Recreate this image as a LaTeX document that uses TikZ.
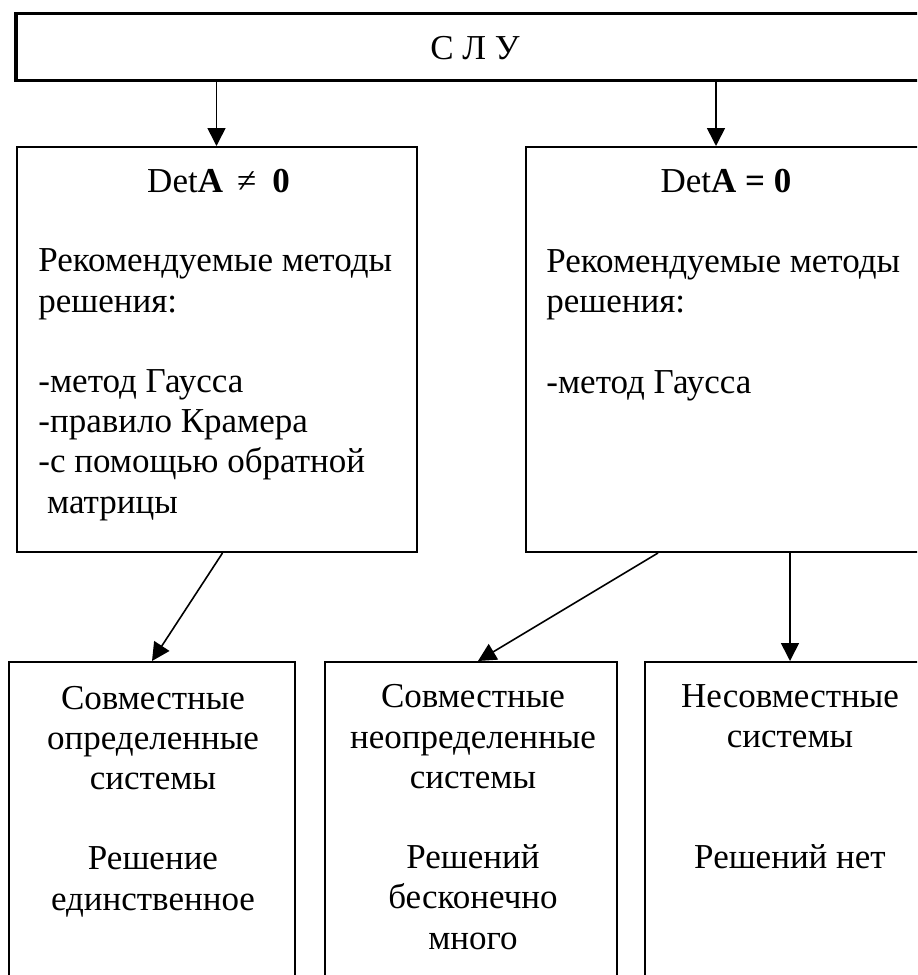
\documentclass[tikz,border=0pt]{standalone}
\usepackage{fontspec}
\setmainfont{Liberation Serif}
\usetikzlibrary{shapes,arrows.meta}
\tikzstyle{cadre}=[rectangle,draw,line width=1pt,inner sep=0pt,
minimum width=200pt,minimum height=202.5pt]
\tikzstyle{cadre1}=[rectangle,draw,line width=1pt,inner sep=0pt,
minimum height=169pt]
\tikzstyle{texte}=[inner sep=0pt,text=black,
font=\fontsize{17.5}{20.1}\selectfont]
\tikzstyle{fleche}=[line width=0.8pt,-{Triangle[width=9pt,length=9pt]}]

\begin{document}
\begin{tikzpicture}[x=0.5pt,y=-0.5pt]
      \clip (0,0) rectangle (917,975);
      \node[rectangle,draw,line width=1.75pt,minimum width=459pt,
        minimum height=33.5pt] (slu) at (475,47) {};
      \node[texte,anchor=base] at (475,59) {С Л У};

      \node[cadre] (gauche) at (216.5,349.5) {};
      \node[cadre] (droite) at (726,349.5) {};
      \node[texte,anchor=base] (detne) at (218.5,192)
        {Det\textbf{A}\hspace{7pt}≠\hspace{8pt}\textbf{0}};
      \node[texte,anchor=base] (deteq) at (726,192) {Det\textbf{A = 0}};
      % ancre base = ligne du bas
      \node[texte,anchor=base west,align=left] at (38,513)
        {Рекомендуемые методы\\решения:\\[20.1pt]-метод Гаусса\\
         -правило Крамера\\-с помощью обратной\\~матрицы};
      \node[texte,anchor=base west,align=left] at (546,393)
        {Рекомендуемые методы\\решения:\\[20.1pt]-метод Гаусса};

      \node[cadre1,minimum width=143pt] (res1) at (152,831) {};
      \node[cadre1,minimum width=146pt] (res2) at (471,831) {};
      \node[cadre1,minimum width=145pt] (res3) at (790,831) {};
      \node[texte,anchor=base,align=center] at (153,910)
        {Совместные\\определенные\\системы\\[20.1pt]Решение\\единственное};
      \node[texte,anchor=base,align=center] at (473,949)
        {Совместные\\неопределенные\\системы\\[20.1pt]Решений\\бесконечно\\много};
      \node[texte,anchor=base,align=center] at (790,868)
        {Несовместные\\системы\\[40.2pt]Решений нет};

      \draw[fleche] (slu.south -| gauche.north) -- (gauche.north);
      \draw[fleche] ([xshift=-5pt]slu.south -| droite.north) -- ([xshift=-5pt]droite.north);
      \draw[fleche] ([xshift=3pt]gauche.south) -- (res1.north);
      \draw[fleche] ([xshift=-34pt]droite.south) -- ([xshift=3.5pt]res2.north);
      \draw[fleche] (droite.south -| res3.north) -- (res3.north);
\end{tikzpicture}
\end{document}
